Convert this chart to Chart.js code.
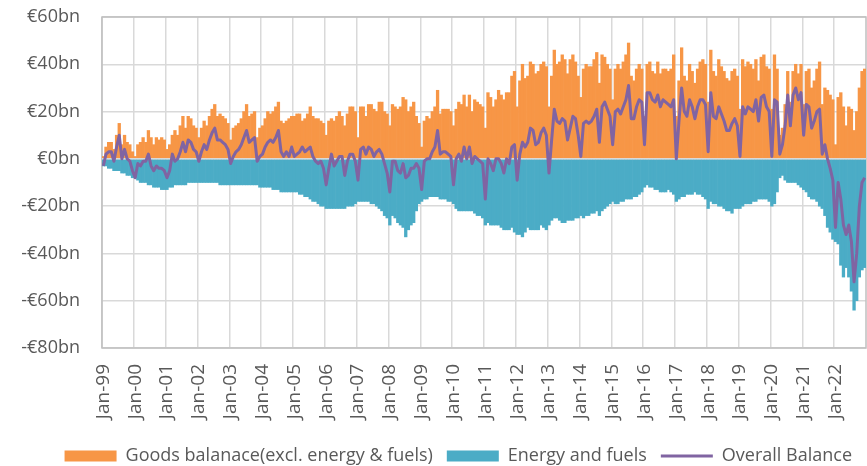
<!DOCTYPE html>
<html>
<head>
<meta charset="utf-8">
<script src="https://cdn.jsdelivr.net/npm/chart.js@4.4.0/dist/chart.umd.min.js"></script>
<style>
  html, body { margin: 0; padding: 0; background: #fff; overflow: hidden; }
</style>
</head>
<body>
<canvas id="tradeChart" width="867" height="466"></canvas>
<script>
// monthly categories Jan-99 .. Dec-22
const years = ['99','00','01','02','03','04','05','06','07','08','09','10','11','12','13','14','15','16','17','18','19','20','21','22'];
const monthNames = ['Jan','Feb','Mar','Apr','May','Jun','Jul','Aug','Sep','Oct','Nov','Dec'];
const labels = years.flatMap(y => monthNames.map(m => `${m}-${y}`));

// y axis ticks (bn EUR)
const yTicks = [60, 40, 20, 0, -20, -40, -60, -80];

// Goods balance excl. energy & fuels, €bn
const goods = [
   1,  5,  7,  7,  4, 10, 15,  6, 10,  7,  6,  3,   // 1999
   1,  6,  7,  9,  7, 12,  9,  6,  9,  8,  9,  8,   // 2000
   4,  6, 10, 12, 10, 14, 18, 13, 18, 17, 14, 13,   // 2001
   9, 13, 16, 14, 18, 21, 23, 18, 19, 18, 17, 15,   // 2002
   8, 13, 14, 15, 17, 20, 23, 18, 19, 20,  9, 13,   // 2003
  14, 17, 20, 19, 20, 22, 24, 16, 15, 16, 17, 18,   // 2004
  18, 19, 19, 16, 17, 19, 22, 18, 17, 17, 16, 15,   // 2005
  10, 16, 17, 16, 18, 20, 18, 14, 19, 22, 22, 20,   // 2006
   9, 22, 22, 18, 23, 23, 21, 20, 24, 24, 20, 19,   // 2007
  14, 23, 22, 21, 22, 26, 25, 20, 22, 24, 18, 15,   // 2008
   5, 16, 18, 17, 20, 22, 29, 19, 21, 21, 21, 20,   // 2009
  14, 21, 24, 23, 27, 22, 27, 20, 25, 24, 23, 22,   // 2010
  13, 28, 26, 22, 25, 29, 27, 25, 28, 28, 35, 37,   // 2011
  22, 33, 40, 34, 35, 41, 40, 36, 37, 40, 41, 39,   // 2012
  22, 35, 46, 40, 41, 44, 42, 36, 42, 44, 41, 35,   // 2013
  26, 38, 40, 39, 39, 42, 45, 32, 44, 43, 40, 38,   // 2014
  25, 38, 40, 38, 41, 44, 49, 35, 33, 38, 40, 38,   // 2015
  18, 40, 41, 37, 36, 41, 36, 38, 38, 37, 38, 44,   // 2016
  18, 33, 47, 35, 33, 40, 37, 32, 38, 41, 42, 40,   // 2017
  24, 46, 37, 35, 42, 39, 37, 34, 33, 37, 38, 35,   // 2018
  21, 42, 39, 41, 40, 38, 42, 33, 43, 44, 39, 38,   // 2019
  21, 44, 38, 10, 13, 23, 37, 24, 37, 40, 36, 40,   // 2020
  23, 37, 38, 30, 33, 38, 41, 23, 30, 29, 27, 25,   // 2021
   6, 26, 28, 22, 14, 22, 21, 12, 20, 30, 37, 38    // 2022
];

// Energy and fuels balance, €bn
const energy = [
   -3,  -3,  -4,  -4,  -5,  -5,  -5,  -6,  -6,  -7,  -7,  -8,   // 1999
   -8,  -9, -10, -10, -10, -11, -11, -12, -12, -12, -13, -13,   // 2000
  -13, -12, -12, -11, -11, -11, -11, -11, -10, -10, -10, -10,   // 2001
  -10, -10, -10, -10, -10, -10, -10, -10, -11, -11, -11, -11,   // 2002
  -11, -11, -11, -11, -11, -11, -11, -11, -11, -11, -11, -12,   // 2003
  -12, -12, -12, -12, -13, -13, -13, -14, -14, -14, -14, -14,   // 2004
  -14, -14, -15, -15, -16, -16, -17, -18, -18, -19, -20, -20,   // 2005
  -21, -21, -21, -21, -21, -21, -21, -21, -20, -20, -20, -19,   // 2006
  -18, -18, -18, -18, -18, -19, -19, -20, -21, -22, -24, -25,   // 2007
  -28, -24, -25, -27, -28, -29, -33, -30, -28, -27, -22, -19,   // 2008
  -18, -17, -17, -16, -16, -16, -16, -17, -17, -17, -18, -18,   // 2009
  -19, -21, -22, -22, -22, -22, -22, -22, -23, -24, -24, -25,   // 2010
  -28, -27, -28, -28, -28, -28, -29, -30, -30, -30, -29, -31,   // 2011
  -32, -32, -33, -31, -29, -30, -30, -30, -30, -28, -29, -30,   // 2012
  -28, -26, -25, -25, -26, -27, -27, -26, -26, -26, -25, -25,   // 2013
  -24, -25, -24, -24, -23, -23, -22, -24, -22, -21, -20, -19,   // 2014
  -18, -19, -19, -18, -18, -17, -17, -17, -16, -16, -15, -14,   // 2015
  -12, -11, -12, -12, -13, -13, -14, -14, -14, -13, -14, -15,   // 2016
  -18, -17, -16, -16, -15, -15, -15, -14, -15, -15, -16, -17,   // 2017
  -21, -18, -19, -19, -20, -20, -21, -22, -22, -23, -21, -21,   // 2018
  -21, -20, -19, -19, -19, -18, -18, -17, -17, -17, -17, -18,   // 2019
  -20, -19, -14,  -8,  -7,  -9, -10, -10, -10, -10, -11, -12,   // 2020
  -13, -14, -16, -17, -17, -18, -20, -21, -24, -29, -31, -34,   // 2021
  -35, -36, -45, -50, -46, -50, -56, -64, -60, -50, -47, -46    // 2022
];

// Overall balance, €bn
const overall = [
   -3,   2,   3,   3,  -1,   5,  10,   0,   4,   0,  -1,  -5,   // 1999
   -8,  -2,  -3,  -1,  -1,   2,  -3,  -5,  -3,  -4,  -4,  -5,   // 2000
   -8,  -5,   2,  -1,   0,   3,   7,   3,   8,   7,   4,   3,   // 2001
   -1,   3,   6,   4,   8,  11,  13,   8,   8,   7,   6,   4,   // 2002
   -2,   1,   3,   4,   6,   9,  12,   7,   8,   9,  -1,   1,   // 2003
    2,   5,   7,   8,   7,   9,  12,   3,   1,   3,   1,   5,   // 2004
    1,   2,   3,   5,   3,   4,   5,   1,  -1,  -2,  -1,  -4,   // 2005
  -11,  -4,   2,  -3,  -1,   1,   1,  -7,  -1,   2,   2,  -1,   // 2006
   -9,   4,   5,   2,   5,   4,   1,   3,   4,   2,  -2,  -6,   // 2007
  -14,  -1,  -1,  -5,  -6,  -2,  -8,  -7,  -4,  -4,  -2,  -4,   // 2008
  -13,  -1,   0,   0,   3,   5,  12,   2,   3,   3,   2,   1,   // 2009
  -11,   0,   2,  -1,   5,   0,   5,  -2,   1,   0,  -1,  -2,   // 2010
  -17,   0,  -2,  -5,   0,   0,  -2,  -6,   0,  -2,   5,   6,   // 2011
   -9,   2,   7,   5,   7,  13,  12,   6,   7,  11,  13,  10,   // 2012
   -6,   8,  21,  16,  15,  17,  16,   8,  13,  18,  17,  10,   // 2013
    1,  15,  16,  15,  16,  18,  21,   7,  22,  24,  21,  18,   // 2014
    6,  20,  21,  19,  22,  25,  31,  17,  17,  22,  25,  24,   // 2015
    6,  28,  28,  25,  24,  27,  22,  25,  24,  23,  22,  25,   // 2016
    0,  16,  30,  20,  18,  25,  22,  17,  22,  25,  25,  23,   // 2017
    3,  28,  18,  17,  22,  19,  16,  12,  12,  15,  17,  14,   // 2018
    1,  22,  19,  22,  21,  20,  25,  16,  26,  27,  22,  20,   // 2019
    1,  25,  24,   2,   6,  14,  27,  14,  27,  30,  25,  28,   // 2020
   10,  23,  22,  13,  16,  20,  21,   2,   6,   0,  -4,  -9,   // 2021
  -29, -10, -17, -28, -32, -28, -35, -52, -40, -20, -10,  -8    // 2022
];

const ORANGE = '#F79646';
const TEAL = '#4BACC6';
const PURPLE = '#8064A2';
const GRID = '#d9d9d9';
const TEXT = '#595959';

// plot frame + horizontal axis line at zero (drawn over bars, under the line)
const framePlugin = {
  id: 'frame',
  beforeDatasetsDraw(chart) {
    const { ctx, chartArea: a } = chart;
    ctx.save();
    ctx.strokeStyle = '#bfbfbf';
    ctx.lineWidth = 1.5;
    ctx.strokeRect(a.left, a.top, a.right - a.left, a.bottom - a.top);
    ctx.restore();
  },
  beforeDatasetDraw(chart, args) {
    if (args.index !== 2) return;
    const { ctx, chartArea: a } = chart;
    const y0 = chart.scales.y.getPixelForValue(0);
    ctx.save();
    ctx.strokeStyle = GRID;
    ctx.lineWidth = 1.5;
    ctx.beginPath();
    ctx.moveTo(a.left, y0);
    ctx.lineTo(a.right, y0);
    ctx.stroke();
    ctx.restore();
  }
};

new Chart(document.getElementById('tradeChart'), {
  type: 'bar',
  data: {
    labels,
    datasets: [
      {
        label: 'Goods balanace(excl. energy & fuels)',
        data: goods,
        backgroundColor: ORANGE,
        borderWidth: 0,
        pointStyle: 'rect',
        stack: 'bal',
        barPercentage: 1,
        categoryPercentage: 1
      },
      {
        label: 'Energy and fuels',
        data: energy,
        backgroundColor: TEAL,
        borderWidth: 0,
        pointStyle: 'rect',
        stack: 'bal',
        barPercentage: 1,
        categoryPercentage: 1
      },
      {
        type: 'line',
        label: 'Overall Balance',
        data: overall,
        borderColor: PURPLE,
        backgroundColor: PURPLE,
        borderWidth: 3,
        pointRadius: 0,
        pointStyle: 'line',
        tension: 0,
        borderJoinStyle: 'round',
        fill: false,
        stack: 'line',
        order: -1
      }
    ]
  },
  options: {
    responsive: false,
    animation: false,
    devicePixelRatio: 1,
    layout: { padding: { top: 17, right: 1, left: 0, bottom: -9 } },
    plugins: {
      tooltip: { enabled: false },
      legend: {
        position: 'bottom',
        align: 'end',
        labels: {
          usePointStyle: true,
          pointStyleWidth: 52,
          boxHeight: 11,
          padding: 14,
          color: TEXT,
          font: { family: 'Open Sans', size: 18, lineHeight: 1 },
          sort: (a, b) => a.datasetIndex - b.datasetIndex
        }
      }
    },
    scales: {
      x: {
        stacked: true,
        afterFit: scale => {
          scale.height = 85;
          scale.paddingLeft = 0;
          scale.paddingRight = 0;
        },
        grid: {
          color: c => (c.index % 12 === 0 ? GRID : 'rgba(0,0,0,0)'),
          lineWidth: 1.5,
          drawTicks: false
        },
        border: { display: false },
        ticks: {
          autoSkip: false,
          maxRotation: 90,
          minRotation: 90,
          padding: 16,
          color: TEXT,
          font: { family: 'Open Sans', size: 19 },
          callback: (v, i) => (i % 12 === 0 ? labels[i] : '')
        }
      },
      y: {
        stacked: true,
        min: yTicks[yTicks.length - 1],
        max: yTicks[0],
        afterFit: scale => {
          scale.width = 102;
          scale.paddingTop = 0;
          scale.paddingBottom = 0;
        },
        grid: { color: GRID, lineWidth: 1.5, drawTicks: false },
        border: { display: false },
        ticks: {
          stepSize: 20,
          padding: 22,
          color: TEXT,
          font: { family: 'Open Sans', size: 18 },
          callback: v => (v < 0 ? '-' : '') + '€' + Math.abs(v) + 'bn'
        }
      }
    }
  },
  plugins: [framePlugin]
});
</script>
</body>
</html>
